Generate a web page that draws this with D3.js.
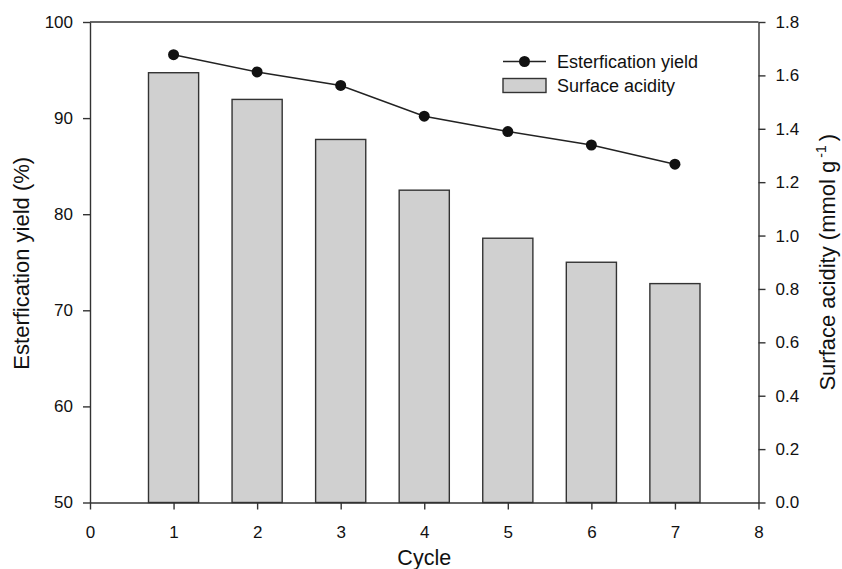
<!DOCTYPE html>
<html>
<head>
<meta charset="utf-8">
<script src="https://cdn.jsdelivr.net/npm/d3@7"></script>
<style>
  html, body { margin: 0; padding: 0; background: #fff; }
  text { font-family: "Liberation Sans", Arial, sans-serif; fill: #111; }
</style>
</head>
<body>
<svg id="chart" width="842" height="569"></svg>
<script>
// Catalyst reuse: esterification yield and surface acidity per cycle
const cycles = [1, 2, 3, 4, 5, 6, 7];
const esterYield = [96.6, 94.8, 93.4, 90.2, 88.6, 87.2, 85.2];
const surfaceAcidity = [1.61, 1.51, 1.36, 1.17, 0.99, 0.90, 0.82];
const xTicks = [0, 1, 2, 3, 4, 5, 6, 7, 8];
const yLeftTicks = [50, 60, 70, 80, 90, 100];
const yRightTicks = [0.0, 0.2, 0.4, 0.6, 0.8, 1.0, 1.2, 1.4, 1.6, 1.8];

const svg = d3.select("#chart");
const margin = { left: 90, right: 842 - 758.5, top: 22, bottom: 569 - 502.5 };
const W = 842, H = 569;

const x = d3.scaleLinear().domain([0, 8]).range([margin.left, W - margin.right]);
const yL = d3.scaleLinear().domain([50, 100]).range([H - margin.bottom, margin.top]);
const yR = d3.scaleLinear().domain([0, 1.8]).range([H - margin.bottom, margin.top]);

const axisColor = "#333";
const barWidth = 0.6;
const tickFont = 17;
const titleFont = 22;
const legendFont = 18;

// Bars (right axis)
svg.append("g").selectAll("rect")
  .data(cycles)
  .join("rect")
  .attr("x", (d) => x(d - barWidth / 2))
  .attr("width", (d) => x(d + barWidth / 2) - x(d - barWidth / 2))
  .attr("y", (d, i) => yR(surfaceAcidity[i]))
  .attr("height", (d, i) => yR(0) - yR(surfaceAcidity[i]))
  .attr("fill", "#d0d0d0")
  .attr("stroke", "#333")
  .attr("stroke-width", 1.4);

// Frame: top line
svg.append("line")
  .attr("x1", x(0)).attr("x2", x(8))
  .attr("y1", yL(100)).attr("y2", yL(100))
  .attr("stroke", axisColor).attr("stroke-width", 1.4);

function styleAxis(g) {
  g.selectAll("path").attr("stroke", axisColor).attr("stroke-width", 1.4);
  g.selectAll("line").attr("stroke", axisColor).attr("stroke-width", 1.4);
  g.selectAll("text")
    .attr("font-size", tickFont)
    .attr("font-family", "Liberation Sans, Arial, sans-serif")
    .attr("fill", "#111");
}

// Bottom axis
svg.append("g")
  .attr("transform", `translate(0,${yL(50)})`)
  .call(d3.axisBottom(x).tickValues(xTicks).tickFormat(d3.format("d")).tickSize(7).tickPadding(16).tickSizeOuter(0))
  .call(styleAxis);

// Left axis
svg.append("g")
  .attr("transform", `translate(${x(0)},0)`)
  .call(d3.axisLeft(yL).tickValues(yLeftTicks).tickFormat(d3.format("d")).tickSize(7).tickPadding(10).tickSizeOuter(0))
  .call(styleAxis);

// Right axis
svg.append("g")
  .attr("transform", `translate(${x(8)},0)`)
  .call(d3.axisRight(yR).tickValues(yRightTicks).tickFormat(d3.format(".1f")).tickSize(7).tickPadding(10).tickSizeOuter(0))
  .call(styleAxis);

// Yield line with markers (left axis)
const line = d3.line()
  .x((d) => x(d))
  .y((d, i) => yL(esterYield[i]));

svg.append("path")
  .datum(cycles)
  .attr("d", line)
  .attr("fill", "none")
  .attr("stroke", "#222")
  .attr("stroke-width", 1.5);

svg.append("g").selectAll("circle")
  .data(cycles)
  .join("circle")
  .attr("cx", (d) => x(d))
  .attr("cy", (d, i) => yL(esterYield[i]))
  .attr("r", 5.5)
  .attr("fill", "#111");

// Axis titles
svg.append("text")
  .attr("x", x(4))
  .attr("y", 565)
  .attr("text-anchor", "middle")
  .attr("font-size", 21.5)
  .text("Cycle");

svg.append("text")
  .attr("transform", `translate(29,${(yL(50) + yL(100)) / 2 + 1}) rotate(-90)`)
  .attr("text-anchor", "middle")
  .attr("font-size", titleFont)
  .text("Esterfication yield (%)");

const rt = svg.append("text")
  .attr("transform", `translate(835,${(yR(0) + yR(1.8)) / 2}) rotate(-90)`)
  .attr("text-anchor", "middle")
  .attr("font-size", titleFont);
rt.append("tspan").text("Surface acidity (mmol g");
rt.append("tspan").attr("dx", 3).attr("dy", -9).attr("font-size", 14).text("-1");
rt.append("tspan").attr("dx", 4).attr("dy", 9).text(")");

// Legend
const lg = svg.append("g");
lg.append("line")
  .attr("x1", 503).attr("x2", 546).attr("y1", 61.5).attr("y2", 61.5)
  .attr("stroke", "#222").attr("stroke-width", 1.5);
lg.append("circle").attr("cx", 524.5).attr("cy", 61.5).attr("r", 5.5).attr("fill", "#111");
lg.append("text").attr("x", 557).attr("y", 67.5).attr("font-size", legendFont).text("Esterfication yield");
lg.append("rect")
  .attr("x", 503).attr("y", 78.5).attr("width", 43).attr("height", 14)
  .attr("fill", "#d0d0d0").attr("stroke", "#333").attr("stroke-width", 1.4);
lg.append("text").attr("x", 557).attr("y", 92).attr("font-size", legendFont).text("Surface acidity");
</script>
</body>
</html>
